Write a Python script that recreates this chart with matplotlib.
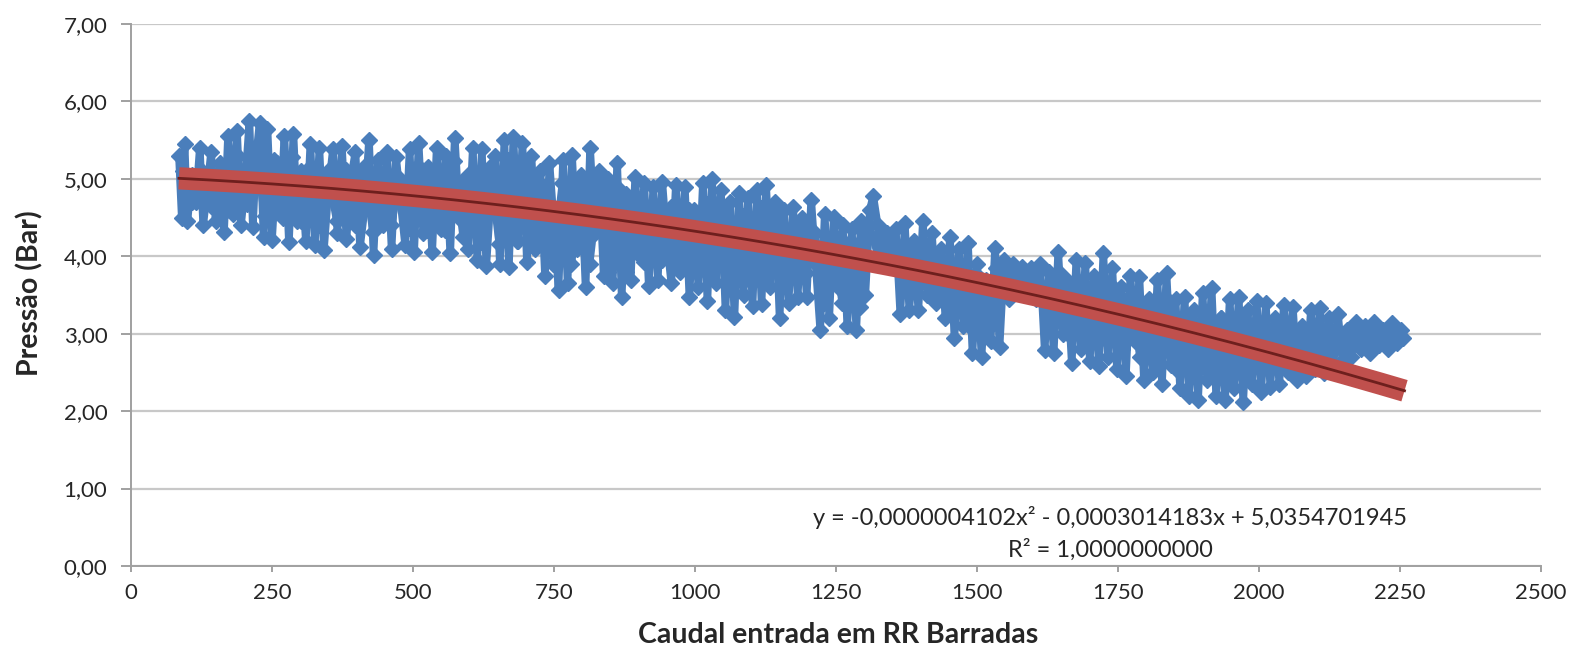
import matplotlib
matplotlib.use("Agg")
import matplotlib.pyplot as plt
import numpy as np

plt.rcParams["font.family"] = ["Lato", "DejaVu Sans"]

# caudal (x) e pressao (y) - pontos junto aos limites da nuvem
CAUDAL = [
    85, 90, 95, 100, 108, 115, 122, 128, 135, 142, 150, 158, 165, 172, 180, 188, 195, 202, 210, 216,
    222, 228, 235, 242, 250, 258, 265, 272, 280, 288, 295, 302, 310, 318, 326, 334, 342, 350, 358, 366,
    374, 382, 390, 398, 406, 414, 422, 430, 438, 446, 454, 462, 470, 478, 486, 494, 502, 510, 518, 526,
    534, 542, 550, 558, 566, 574, 582, 590, 598, 606, 614, 622, 630, 638, 646, 654, 662, 670, 678, 686,
    694, 702, 710, 718, 726, 734, 742, 750, 758, 766, 774, 782, 790, 798, 806, 814, 822, 830, 838, 846,
    854, 862, 870, 878, 886, 894, 902, 910, 918, 926, 934, 942, 950, 958, 966, 974, 982, 990, 998, 1006,
    1014, 1022, 1030, 1038, 1046, 1054, 1062, 1070, 1078, 1086, 1094, 1102, 1110, 1118, 1126, 1134, 1142, 1150, 1158, 1166,
    1174, 1182, 1190, 1198, 1206, 1214, 1222, 1230, 1238, 1246, 1254, 1262, 1270, 1278, 1286, 1294, 1302, 1310, 1316, 1324,
    1332, 1340, 1348, 1356, 1364, 1372, 1380, 1388, 1396, 1404, 1412, 1420, 1428, 1436, 1444, 1452, 1460, 1468, 1476, 1484,
    1492, 1500, 1508, 1516, 1524, 1532, 1540, 1548, 1556, 1564, 1572, 1580, 1588, 1596, 1604, 1612, 1620, 1628, 1636, 1644,
    1652, 1660, 1668, 1676, 1684, 1692, 1700, 1708, 1716, 1724, 1732, 1740, 1748, 1756, 1764, 1772, 1780, 1788, 1796, 1804,
    1812, 1820, 1828, 1836, 1844, 1852, 1860, 1868, 1876, 1884, 1892, 1900, 1908, 1916, 1924, 1932, 1940, 1948, 1956, 1964,
    1972, 1980, 1988, 1996, 2004, 2012, 2020, 2028, 2036, 2044, 2052, 2060, 2068, 2076, 2084, 2092, 2100, 2108, 2116, 2124,
    2132, 2140, 2148, 2156, 2164, 2172, 2180, 2188, 2196, 2204, 2212, 2220, 2228, 2236, 2244, 2252, 2256,
]
PRESSAO = [
    5.30, 4.50, 5.45, 4.45, 5.05, 4.70, 5.40, 4.40, 4.85, 5.35, 4.45, 5.20, 4.32, 5.55, 4.55, 5.62, 4.40, 4.90, 5.75, 4.38,
    5.30, 5.72, 4.25, 5.65, 4.21, 5.20, 4.60, 5.55, 4.18, 5.58, 4.45, 5.10, 4.20, 5.45, 4.15, 5.40, 4.08, 4.85, 5.38, 4.30,
    5.42, 4.22, 5.00, 5.35, 4.12, 4.60, 5.50, 4.02, 5.25, 4.40, 5.35, 4.10, 5.28, 4.70, 4.15, 5.38, 4.05, 5.46, 4.30, 5.15,
    4.05, 5.40, 4.35, 5.30, 4.04, 5.53, 4.50, 5.00, 4.10, 5.40, 3.95, 5.38, 3.88, 4.80, 5.30, 3.90, 5.50, 3.86, 5.54, 4.20,
    5.46, 3.92, 5.30, 4.20, 5.10, 3.75, 5.20, 4.40, 3.57, 5.25, 3.65, 5.31, 4.10, 5.00, 3.60, 5.40, 4.30, 5.10, 3.75, 5.00,
    3.65, 5.20, 3.48, 4.80, 3.70, 5.03, 4.00, 4.95, 3.62, 4.90, 3.70, 4.96, 4.20, 3.65, 4.92, 3.80, 4.90, 3.48, 4.60, 3.60,
    4.95, 3.42, 5.00, 3.90, 4.85, 3.30, 4.70, 3.22, 4.82, 3.50, 4.75, 3.36, 4.85, 3.39, 4.92, 3.80, 4.70, 3.20, 4.60, 3.40,
    4.64, 3.48, 4.50, 3.48, 4.73, 3.90, 3.05, 4.55, 3.20, 4.51, 3.60, 4.40, 3.10, 4.35, 3.05, 4.45, 3.50, 4.60, 4.78, 4.40,
    3.95, 4.30, 3.90, 4.35, 3.25, 4.43, 3.30, 4.20, 3.30, 4.45, 3.50, 4.30, 3.40, 4.10, 3.20, 4.25, 2.95, 4.10, 3.10, 4.17,
    2.75, 3.90, 2.70, 3.70, 2.90, 4.11, 2.83, 3.95, 3.45, 3.90, 3.55, 3.86, 3.50, 3.85, 3.45, 3.90, 2.79, 3.80, 2.75, 4.06,
    3.00, 3.70, 2.62, 3.95, 2.80, 3.91, 2.65, 3.75, 2.58, 4.04, 2.70, 3.85, 2.55, 3.60, 2.45, 3.75, 2.90, 3.73, 2.40, 3.40,
    2.50, 3.70, 2.35, 3.78, 2.60, 3.45, 2.30, 3.48, 2.20, 3.30, 2.14, 3.52, 2.40, 3.59, 2.20, 3.20, 2.15, 3.45, 2.30, 3.48,
    2.12, 3.30, 2.35, 3.42, 2.25, 3.40, 2.31, 3.20, 2.35, 3.37, 2.50, 3.35, 2.40, 3.10, 2.45, 3.30, 2.55, 3.33, 2.49, 3.20,
    2.60, 3.25, 2.65, 3.05, 2.70, 3.15, 2.80, 3.10, 2.75, 3.15, 2.85, 3.05, 2.80, 3.14, 2.88, 3.05, 2.95,
]

# segunda passagem - pontos do interior da nuvem
CAUDAL_INT = [
    93, 109, 125, 141, 157, 173, 189, 205, 221, 237, 253, 269, 285, 301, 317, 333, 349, 365, 381, 397,
    413, 429, 445, 461, 477, 493, 509, 525, 541, 557, 573, 589, 605, 621, 637, 653, 669, 685, 701, 717,
    733, 749, 765, 781, 797, 813, 829, 845, 861, 877, 893, 909, 925, 941, 957, 973, 989, 1005, 1021, 1037,
    1053, 1069, 1085, 1101, 1117, 1133, 1149, 1165, 1181, 1197, 1213, 1229, 1245, 1261, 1277, 1293, 1309, 1325, 1341, 1357,
    1373, 1389, 1405, 1421, 1437, 1453, 1469, 1485, 1501, 1517, 1533, 1549, 1565, 1581, 1597, 1613, 1629, 1645, 1661, 1677,
    1693, 1709, 1725, 1741, 1757, 1773, 1789, 1805, 1821, 1837, 1853, 1869, 1885, 1901, 1917, 1933, 1949, 1965, 1981, 1997,
    2013, 2029, 2045, 2061, 2077, 2093, 2109, 2125, 2141, 2157, 2173, 2189, 2205, 2221, 2237,
]
PRESSAO_INT = [
    5.10, 4.70, 5.10, 4.65, 5.05, 4.60, 5.30, 4.68, 5.40, 4.52, 5.25, 4.50, 5.28, 4.45, 5.15, 4.40, 5.10, 4.45, 5.11, 4.40,
    5.15, 4.32, 5.05, 4.40, 5.00, 4.36, 5.16, 4.34, 5.10, 4.34, 5.23, 4.25, 5.10, 4.18, 5.15, 4.16, 5.24, 4.20, 5.15, 4.10,
    4.90, 3.90, 4.95, 3.90, 5.05, 3.90, 4.90, 3.80, 4.90, 3.80, 4.73, 3.92, 4.65, 3.95, 4.64, 3.85, 4.60, 3.80, 4.68, 3.65,
    4.60, 3.52, 4.52, 3.66, 4.62, 3.60, 4.45, 3.70, 4.34, 3.78, 4.30, 3.40, 4.25, 3.40, 4.20, 3.35, 4.40, 4.00, 4.25, 3.95,
    4.15, 3.55, 4.15, 3.55, 3.95, 3.30, 3.90, 3.10, 3.75, 3.05, 3.85, 3.65, 3.75, 3.60, 3.70, 3.60, 3.10, 3.80, 3.00, 3.70,
    2.95, 3.65, 2.95, 3.60, 2.80, 3.50, 2.70, 3.45, 2.65, 3.45, 2.55, 3.20, 2.45, 3.25, 2.45, 3.20, 2.42, 3.20, 2.50, 3.12,
    2.60, 3.10, 2.65, 3.05, 2.70, 3.05, 2.75, 3.00, 2.85, 2.95, 2.90, 2.98, 2.92, 2.98, 2.95,
]

# linha de tendencia polinomial (coeficientes da equacao mostrada)
TREND_COEF = [-0.0000004102, -0.0003014183, 5.0354701945]
TREND_X_MIN = 85
TREND_X_MAX = 2258

X_TICKS = [0, 250, 500, 750, 1000, 1250, 1500, 1750, 2000, 2250, 2500]
Y_TICKS = [0, 1, 2, 3, 4, 5, 6, 7]

EQUATION = "y = -0,0000004102x² - 0,0003014183x + 5,0354701945"
R2_TEXT = "R² = 1,0000000000"

BLUE = "#4A7EBB"
RED = "#C0504D"
DARK_RED = "#6E1F1D"
GRID = "#C8C8C8"

fig = plt.figure(figsize=(15.73, 6.51), dpi=100)
ax = fig.add_axes([131 / 1573, 85 / 651, 1410 / 1573, 542 / 651])

for xs, ys in [(CAUDAL, PRESSAO), (CAUDAL_INT, PRESSAO_INT)]:
    ax.plot(xs, ys, color=BLUE, lw=5.5, marker="D", ms=8.5,
            markerfacecolor=BLUE, markeredgecolor=BLUE, zorder=3)

trend_x = np.linspace(TREND_X_MIN, TREND_X_MAX, 200)
trend_y = np.polyval(TREND_COEF, trend_x)
ax.plot(trend_x, trend_y, color=RED, lw=16, solid_capstyle="butt", zorder=4)
ax.plot(trend_x, trend_y, color=DARK_RED, lw=2, zorder=5)

ax.set_xlim(0, 2500)
ax.set_ylim(0, 7)
ax.set_xticks(X_TICKS)
ax.set_xticklabels([str(v) for v in X_TICKS])
ax.set_yticks(Y_TICKS)
ax.set_yticklabels([f"{v:.2f}".replace(".", ",") for v in Y_TICKS])

ax.grid(axis="y", color=GRID, lw=1.6, zorder=0)
ax.set_axisbelow(True)
for side in ["top", "right"]:
    ax.spines[side].set_visible(False)
for side in ["left", "bottom"]:
    ax.spines[side].set_color("#A0A0A0")
    ax.spines[side].set_linewidth(1.4)

ax.tick_params(axis="y", length=7, width=1.4, color="#A0A0A0", pad=10,
               labelsize=16, labelcolor="#262626")
ax.tick_params(axis="x", length=4, width=1.4, color="#A0A0A0", pad=8,
               labelsize=16, labelcolor="#262626")

ax.text(1736, 0.63, EQUATION, ha="center", va="center", fontsize=17, color="#262626")
ax.text(1736, 0.21, R2_TEXT, ha="center", va="center", fontsize=17, color="#262626")

fig.text(838 / 1573, 1 - 635 / 651, "Caudal entrada em RR Barradas", ha="center", va="center",
         fontsize=20.5, fontweight="bold", color="#262626")
fig.text(30 / 1573, 1 - 293 / 651, "Pressão (Bar)", ha="center", va="center", rotation=90,
         fontsize=20.5, fontweight="bold", color="#262626")

fig.savefig("out.png", dpi=100, facecolor="white")
